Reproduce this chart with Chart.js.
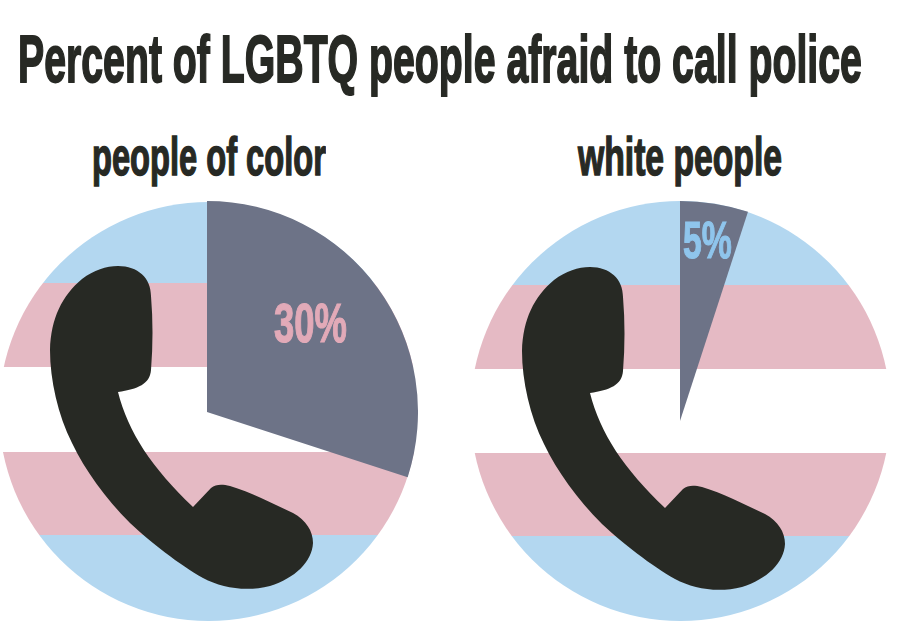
<!DOCTYPE html>
<html>
<head>
<meta charset="utf-8">
<title>Percent of LGBTQ people afraid to call police</title>
<script src="https://cdn.jsdelivr.net/npm/chart.js@4"></script>
<style>
  html, body { margin: 0; background: #fff; }
  #page { position: relative; width: 900px; height: 621px; overflow: hidden; }
  canvas { position: absolute; }
  .txt {
    position: absolute; white-space: nowrap; color: #272924;
    font-family: "Liberation Sans Narrow", "Liberation Sans", sans-serif; font-weight: bold;
    transform-origin: 0 0; line-height: 1;
  }
  #title { -webkit-text-stroke: 1.8px #272924; }
  #subL, #subR { -webkit-text-stroke: 1.5px #272924; }
</style>
</head>
<body>
<div id="page">
  <div class="txt" id="title" style="left:18px;top:25px;font-size:67px">Percent of LGBTQ people afraid to call police</div>
  <div class="txt" id="subL" style="left:92px;top:130px;font-size:53px">people of color</div>
  <div class="txt" id="subR" style="left:578px;top:130px;font-size:53px">white people</div>
  <canvas id="pieColor" width="422" height="422" style="left:-4px;top:201px"></canvas>
  <canvas id="pieWhite" width="440" height="440" style="left:460px;top:201px"></canvas>
</div>
<script>
const groups = ["people of color", "white people"];
const afraid = [30, 5];
const notAfraid = [70, 95];
const labels = ["30%", "5%"];

const GRAY = "#6d7387";
const BLUE = "#b3d7f0";
const PINK = "#e5bac4";
const INK = "#272924";

// stretch the text so it fills the same width as the original
function fitWidth(id, w) {
  const el = document.getElementById(id);
  el.style.transform = `scaleX(${w / el.offsetWidth})`;
}
fitWidth("title", 844);
fitWidth("subL", 234);
fitWidth("subR", 204);

function phonePath() {
  const p = new Path2D();
  p.moveTo(118, 266);
  p.bezierCurveTo(138, 266, 151, 278, 151, 296);
  p.bezierCurveTo(153, 320, 153, 345, 151, 370);
  p.bezierCurveTo(150, 384, 138, 389, 118, 392);
  p.bezierCurveTo(128, 432, 152, 468, 193, 507);
  p.lineTo(211, 488);
  p.bezierCurveTo(216, 484, 222, 484, 230, 486);
  p.bezierCurveTo(250, 492, 272, 503, 293, 513);
  p.bezierCurveTo(306, 520, 313, 531, 313, 543);
  p.bezierCurveTo(312, 562, 295, 578, 270, 586);
  p.bezierCurveTo(246, 592, 222, 588, 203, 578);
  p.bezierCurveTo(180, 565, 150, 542, 130, 523);
  p.bezierCurveTo(105, 498, 85, 470, 72, 443);
  p.bezierCurveTo(58, 415, 50, 380, 50, 350);
  p.bezierCurveTo(51, 318, 62, 296, 82, 279);
  p.bezierCurveTo(94, 270, 106, 266, 118, 266);
  p.closePath();
  return p;
}

// flag circle goes under the slices, phone and label on top
const flagPlugin = {
  id: "flag",
  beforeDatasetsDraw(chart, args, o) {
    const ctx = chart.ctx;
    ctx.save();
    ctx.beginPath();
    ctx.arc(o.cx, o.cy, o.r, 0, Math.PI * 2);
    ctx.clip();
    ctx.fillStyle = BLUE;
    ctx.fillRect(0, 0, chart.width, o.bands[0]);
    ctx.fillRect(0, o.bands[3], chart.width, chart.height - o.bands[3]);
    ctx.fillStyle = PINK;
    ctx.fillRect(0, o.bands[0], chart.width, o.bands[1] - o.bands[0]);
    ctx.fillRect(0, o.bands[2], chart.width, o.bands[3] - o.bands[2]);
    ctx.restore();
  },
  afterDatasetsDraw(chart, args, o) {
    const ctx = chart.ctx;
    ctx.save();
    ctx.translate(o.phoneX, o.phoneY);
    ctx.fillStyle = INK;
    ctx.fill(phonePath());
    ctx.restore();
    ctx.save();
    ctx.font = `bold ${o.fontSize}px "Liberation Sans Narrow", "Liberation Sans", sans-serif`;
    ctx.fillStyle = o.labelColor;
    ctx.strokeStyle = o.labelColor;
    ctx.lineWidth = 1.2;
    ctx.textAlign = "center";
    ctx.textBaseline = "middle";
    ctx.translate(o.labelX, o.labelY);
    ctx.scale(o.labelScale, 1);
    ctx.fillText(o.label, 0, 0);
    ctx.strokeText(o.label, 0, 0);
    ctx.restore();
  }
};

function makePie(id, i, flag) {
  new Chart(document.getElementById(id), {
    type: "pie",
    data: {
      labels: ["afraid", "not afraid"],
      datasets: [{
        label: groups[i],
        data: [afraid[i], notAfraid[i]],
        backgroundColor: [GRAY, "rgba(0,0,0,0)"],
        borderWidth: 0
      }]
    },
    options: {
      responsive: false,
      animation: false,
      layout: { padding: 0 },
      plugins: { legend: { display: false }, tooltip: { enabled: false }, flag: flag }
    },
    plugins: [flagPlugin]
  });
}

makePie("pieColor", 0, {
  cx: 212.5, cy: 210.5, r: 209.5, bands: [82, 166, 251, 334],
  phoneX: 4, phoneY: -201,
  label: labels[0], labelX: 314.5, labelY: 126, fontSize: 56, labelScale: 0.65, labelColor: "#e2aab8"
});
makePie("pieWhite", 1, {
  cx: 220.5, cy: 210, r: 210, bands: [84, 168, 252, 335],
  phoneX: 12, phoneY: -200,
  label: labels[1], labelX: 247.5, labelY: 43, fontSize: 52, labelScale: 0.65, labelColor: "#8fc5ec"
});
</script>
</body>
</html>
